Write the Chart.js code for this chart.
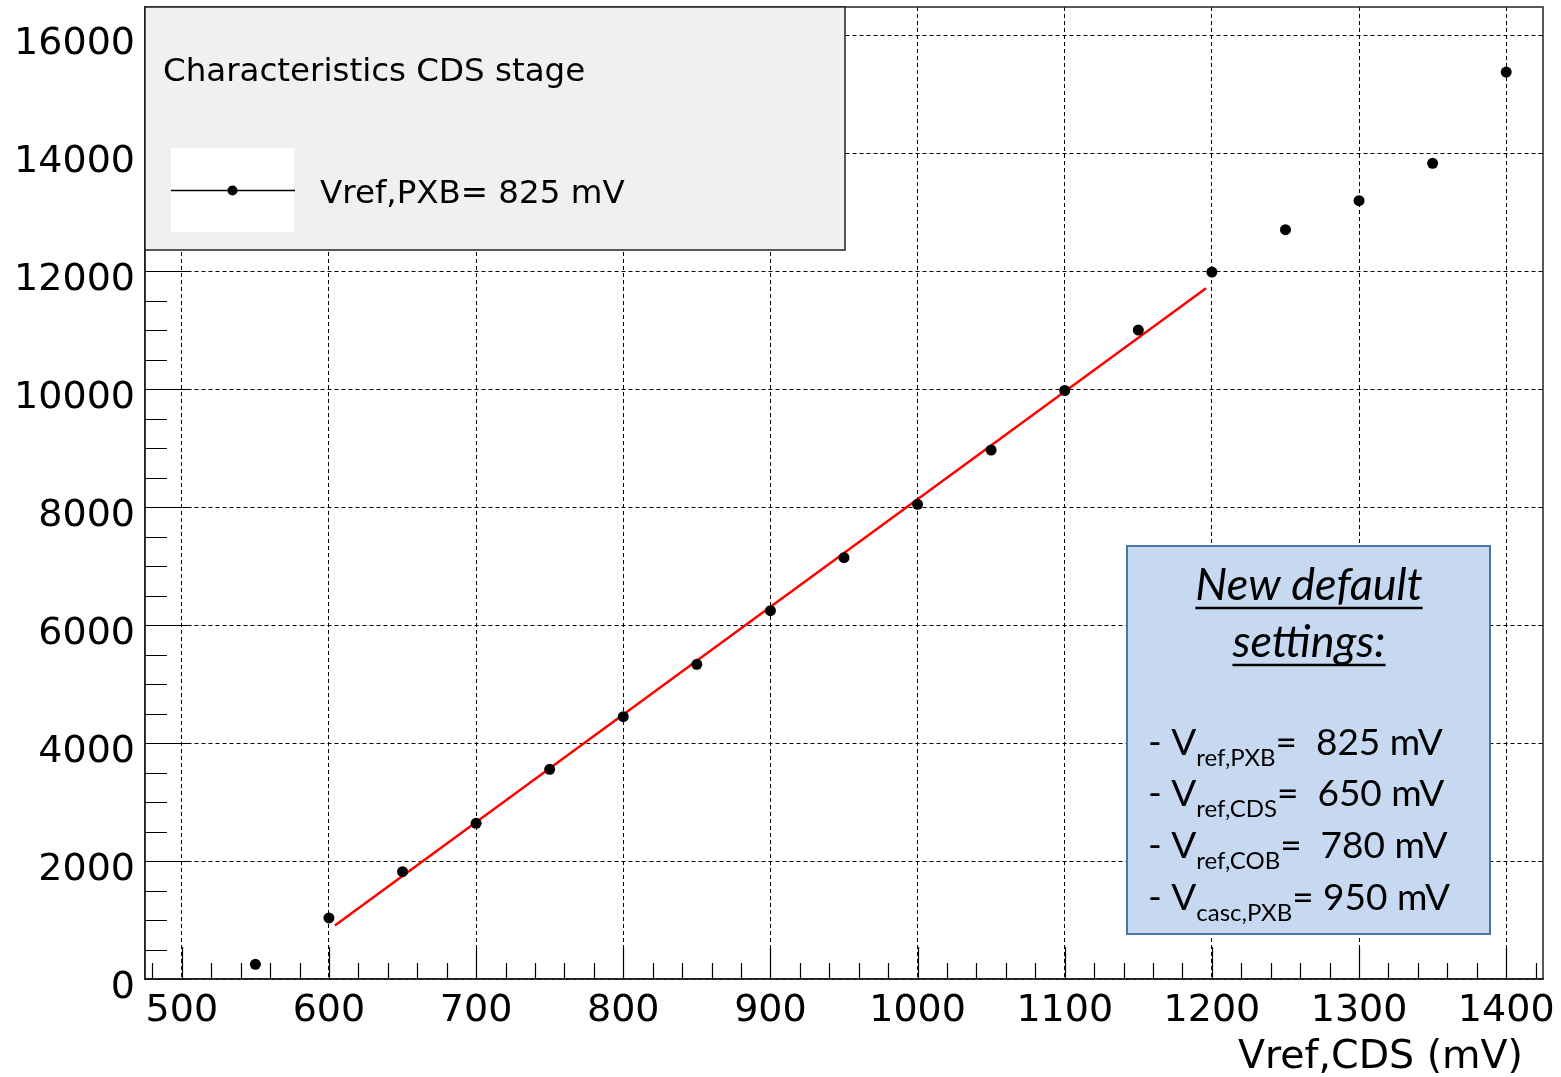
<!DOCTYPE html>
<html>
<head>
<meta charset="utf-8">
<title>Characteristics CDS stage</title>
<script src="https://cdn.jsdelivr.net/npm/chart.js@4/dist/chart.umd.min.js"></script>
<style>
  html, body { margin: 0; padding: 0; background: #ffffff; overflow: hidden; }
  #wrap { position: relative; width: 1561px; height: 1077px; }
</style>
</head>
<body>
<div id="wrap"><canvas id="chart" width="1561" height="1077"></canvas></div>
<script>
// Measured output versus Vref,CDS (mV) at Vref,PXB = 825 mV
const vrefCDS = [550, 600, 650, 700, 750, 800, 850, 900, 950, 1000, 1050, 1100, 1150, 1200, 1250, 1300, 1350, 1400];
const output  = [249, 1035, 1819, 2639, 3554, 4446, 5334, 6242, 7141, 8045, 8966, 9975, 11000, 11983, 12700, 13192, 13825, 15373];

// Linear fit drawn over its fit range
const fitRange  = [604, 1196];
const fitValues = [905, 11707];

// Axis ranges and tick labels
const xRange = [475, 1425];
const yRange = [0, 16475];
const xTickValues = [500, 600, 700, 800, 900, 1000, 1100, 1200, 1300, 1400];
const yTickValues = [0, 2000, 4000, 6000, 8000, 10000, 12000, 14000, 16000];
const xMinorStep = 20;
const yMinorStep = 500;

// Legend and annotation texts
const legendTitle = 'Characteristics CDS stage';
const seriesLabel = 'Vref,PXB= 825 mV';
const xAxisTitle = 'Vref,CDS (mV)';
const settingsHeading = ['New default', 'settings:'];
const settingsNames = ['V', 'V', 'V', 'V'];
const settingsSubs = ['ref,PXB', 'ref,CDS', 'ref,COB', 'casc,PXB'];
const settingsValues = ['=  825 mV', '=  650 mV', '=  780 mV', '= 950 mV'];

const AXIS_FONT = 'DejaVu Sans';
const BOX_FONT = 'Lato, "Open Sans", sans-serif';

// Inward tick marks, frame, legend, annotation box and axis title
const decorations = {
  id: 'decorations',
  beforeDatasetsDraw(chart) {
    const { ctx, chartArea: a, scales: { x, y } } = chart;
    ctx.save();
    ctx.strokeStyle = '#000';
    ctx.lineWidth = 1.2;
    ctx.beginPath();
    for (let v = Math.ceil(xRange[0] / xMinorStep) * xMinorStep; v <= xRange[1]; v += xMinorStep) {
      const px = Math.round(x.getPixelForValue(v)) + 0.5;
      const len = xTickValues.includes(v) ? 32 : 16;
      ctx.moveTo(px, a.bottom);
      ctx.lineTo(px, a.bottom - len);
    }
    for (let v = yRange[0]; v <= yRange[1]; v += yMinorStep) {
      const py = Math.round(y.getPixelForValue(v)) + 0.5;
      const len = yTickValues.includes(v) ? 45 : 22;
      ctx.moveTo(a.left, py);
      ctx.lineTo(a.left + len, py);
    }
    ctx.stroke();
    ctx.restore();
  },
  afterDraw(chart) {
    const { ctx, chartArea: a } = chart;
    ctx.save();
    // frame
    ctx.strokeStyle = '#222';
    ctx.lineWidth = 1.5;
    ctx.strokeRect(a.left, a.top, a.right - a.left, a.bottom - a.top);

    // legend box
    ctx.fillStyle = '#f0f0f0';
    ctx.fillRect(a.left, a.top, 700, 243);
    ctx.strokeRect(a.left, a.top, 700, 243);
    ctx.fillStyle = '#000';
    ctx.font = '32.5px "' + AXIS_FONT + '"';
    ctx.textAlign = 'left';
    ctx.textBaseline = 'alphabetic';
    ctx.fillText(legendTitle, 163, 81);
    ctx.fillStyle = '#ffffff';
    ctx.fillRect(171, 148, 123, 84);
    ctx.strokeStyle = '#000';
    ctx.lineWidth = 1.5;
    ctx.beginPath();
    ctx.moveTo(171, 190.5);
    ctx.lineTo(295, 190.5);
    ctx.stroke();
    ctx.fillStyle = '#000';
    ctx.beginPath();
    ctx.arc(232.5, 190.5, 5, 0, Math.PI * 2);
    ctx.fill();
    ctx.fillText(seriesLabel, 320, 203);

    // x axis title
    ctx.font = '39.5px "' + AXIS_FONT + '"';
    ctx.textAlign = 'right';
    ctx.fillText(xAxisTitle, 1523, 1068);

    // settings box
    const bx = 1127, by = 546, bw = 363, bh = 388;
    ctx.fillStyle = '#c6d9f1';
    ctx.fillRect(bx, by, bw, bh);
    ctx.strokeStyle = '#4a76a8';
    ctx.lineWidth = 2;
    ctx.strokeRect(bx, by, bw, bh);

    ctx.fillStyle = '#000';
    ctx.strokeStyle = '#000';
    ctx.textAlign = 'left';
    ctx.font = 'italic 45px ' + BOX_FONT;
    const headBase = [600, 657];
    settingsHeading.forEach((t, i) => {
      const w = ctx.measureText(t).width;
      const x0 = 1309 - w / 2;
      ctx.fillText(t, x0, headBase[i]);
      ctx.lineWidth = 2.5;
      ctx.beginPath();
      ctx.moveTo(x0, headBase[i] + 8);
      ctx.lineTo(x0 + w, headBase[i] + 8);
      ctx.stroke();
    });

    const rowBase = [755, 806, 858, 910];
    settingsNames.forEach((n, i) => {
      let cx = 1148;
      ctx.font = '37px ' + BOX_FONT;
      const lead = '- ' + n;
      ctx.fillText(lead, cx, rowBase[i]);
      cx += ctx.measureText(lead).width;
      ctx.font = '24px ' + BOX_FONT;
      ctx.fillText(settingsSubs[i], cx, rowBase[i] + 11);
      cx += ctx.measureText(settingsSubs[i]).width;
      ctx.font = '37px ' + BOX_FONT;
      ctx.fillText(settingsValues[i], cx, rowBase[i]);
    });
    ctx.restore();
  }
};

new Chart(document.getElementById('chart'), {
  type: 'scatter',
  data: {
    datasets: [
      {
        label: seriesLabel,
        data: vrefCDS.map((v, i) => ({ x: v, y: output[i] })),
        pointRadius: 5.5,
        pointBackgroundColor: '#000',
        pointBorderWidth: 0,
        showLine: false,
        order: 0
      },
      {
        label: 'fit',
        data: fitRange.map((v, i) => ({ x: v, y: fitValues[i] })),
        showLine: true,
        borderColor: '#ff0000',
        borderWidth: 2.5,
        pointRadius: 0,
        fill: false,
        order: 1
      }
    ]
  },
  options: {
    responsive: false,
    animation: false,
    devicePixelRatio: 1,
    layout: { padding: { top: 7, right: 18, left: 0, bottom: 0 } },
    plugins: { legend: { display: false }, tooltip: { enabled: false } },
    scales: {
      x: {
        type: 'linear',
        min: xRange[0],
        max: xRange[1],
        afterBuildTicks(s) { s.ticks = xTickValues.map(v => ({ value: v })); },
        afterFit(s) { s.height = 98; s.paddingLeft = 0; s.paddingRight = 0; },
        ticks: {
          autoSkip: false,
          maxRotation: 0,
          color: '#000',
          padding: 9,
          font: { family: AXIS_FONT, size: 38 },
          callback: (v) => String(v)
        },
        grid: { color: '#000', lineWidth: 1, drawTicks: false },
        border: { display: true, color: '#222', width: 1.5, dash: [4, 3] }
      },
      y: {
        type: 'linear',
        min: yRange[0],
        max: yRange[1],
        afterBuildTicks(s) { s.ticks = yTickValues.map(v => ({ value: v })); },
        afterFit(s) { s.width = 145; s.paddingTop = 0; s.paddingBottom = 0; },
        ticks: {
          autoSkip: false,
          color: '#000',
          padding: 10,
          labelOffset: 9,
          font: { family: AXIS_FONT, size: 38 },
          callback: (v) => String(v)
        },
        grid: { color: '#000', lineWidth: 1, drawTicks: false },
        border: { display: true, color: '#222', width: 1.5, dash: [4, 3] }
      }
    }
  },
  plugins: [decorations]
});
</script>
</body>
</html>
